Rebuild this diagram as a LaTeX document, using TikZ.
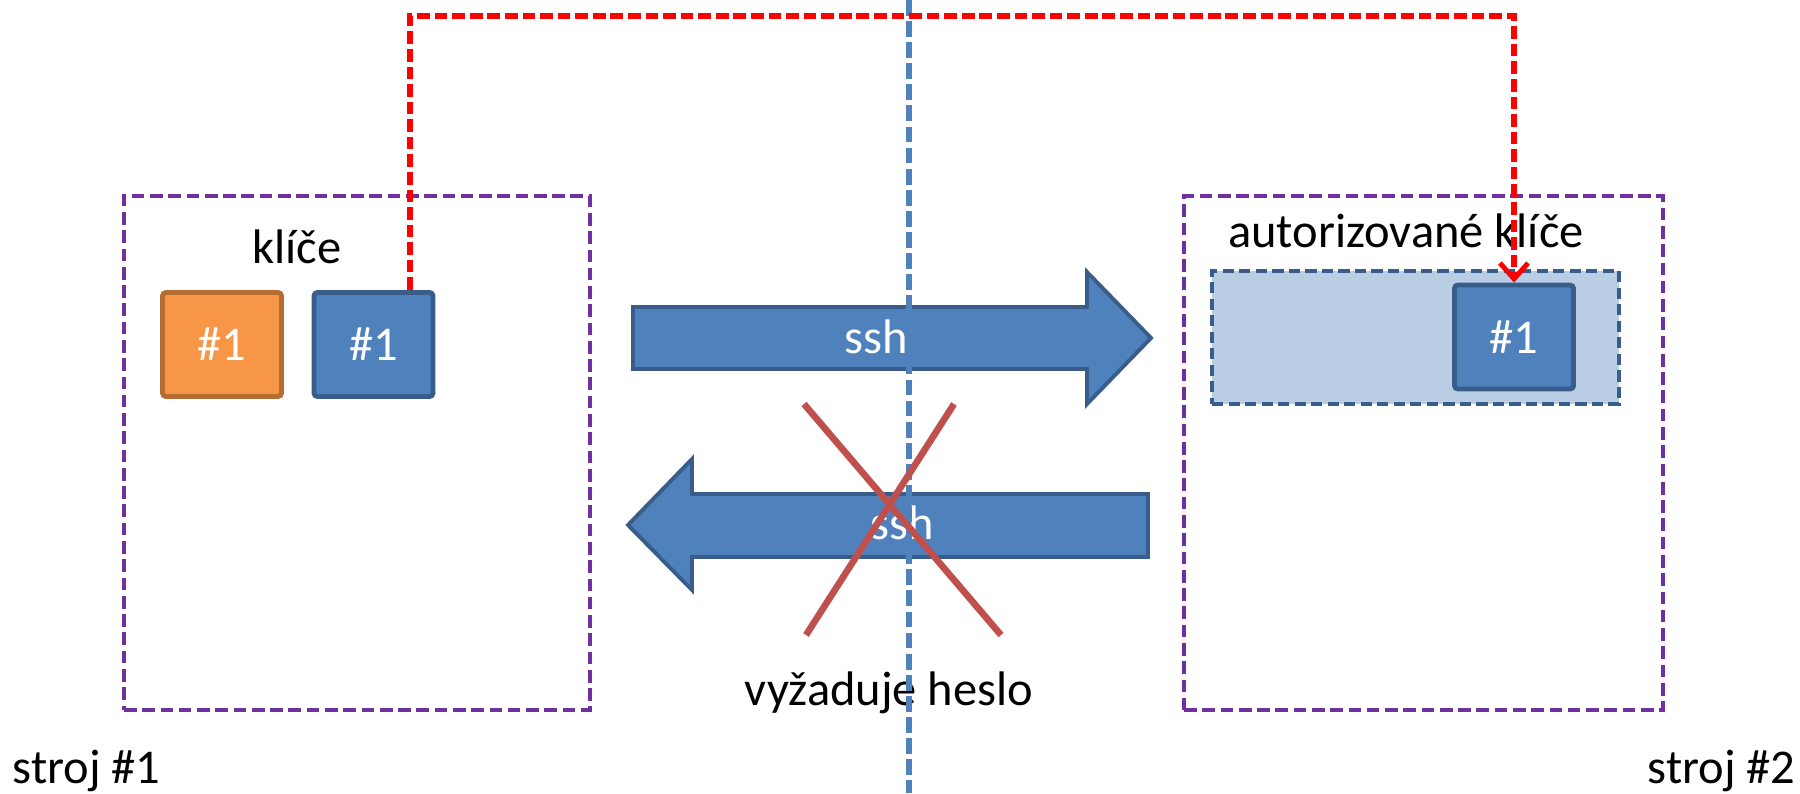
\documentclass[tikz,border=0pt]{standalone}
\usepackage{fontspec}
\setmainfont{Carlito}
\usetikzlibrary{
  calc,
  positioning,
  arrows.meta
}

\definecolor{keyblue}{HTML}{4F81BD}
\definecolor{keyblueline}{HTML}{385D8A}
\definecolor{keyorange}{HTML}{F79646}
\definecolor{keyorangeline}{HTML}{B66D31}
\definecolor{lightblue}{HTML}{B9CDE5}
\definecolor{hostpurple}{HTML}{7030A0}
\definecolor{crossred}{HTML}{C0504D}
\definecolor{copyred}{HTML}{FF0000}

\newcommand\lbl{\fontsize{13.8}{16.5}\selectfont}

\begin{document}
\begin{tikzpicture}[x=0.1mm, y=-0.1mm, font=\lbl,
    host/.style={draw=hostpurple, line width=1.3pt, dash pattern=on 3.6pt off 1.6pt,
      minimum height=51.4mm, inner sep=0pt},
    key/.style={rectangle, rounded corners=1pt, line width=1.4pt, text=white,
      minimum width=11.9mm, minimum height=10.4mm, inner sep=0pt},
    pub/.style={key, fill=keyblue, draw=keyblueline},
    priv/.style={key, fill=keyorange, draw=keyorangeline},
    keyring/.style={fill=lightblue, draw=keyblueline, line width=1.2pt,
      dash pattern=on 3.2pt off 1.5pt, minimum width=40.7mm, minimum height=13.3mm},
    bigarrow/.style={fill=keyblue, draw=keyblueline, line width=1.1pt},
    txt/.style={inner sep=0pt, anchor=base},
    cross/.style={draw=crossred, line width=1.9pt},
    border/.style={draw=keyblue, line width=1.5pt, dash pattern=on 4.5pt off 1.5pt},
    copy/.style={draw=copyred, line width=1.6pt, dash pattern=on 3.6pt off 1.4pt,
      -{Straight Barb[length=4.5pt, width=8pt, line width=1.4pt]}}
  ]
    \useasboundingbox (0,0) rectangle (1800,793);

    \node[host, minimum width=46.6mm] (host1) at (357,453) {};
    \node[host, minimum width=47.9mm] (host2) at (1423.5,453) {};

    \node[txt] (keys) at (297,263) {klíče};
    \node[priv] (privkey) at (222,344.5) {\#1};
    \node[pub] (pubkey) at (373.5,344.5) {\#1};

    \node[txt] (authkeys) at (1406,247) {autorizované klíče};
    \node[keyring] (ring) at (1415.5,337.5) {};
    \node[pub] (authkey) at (1514,337) {\#1};

    \draw[bigarrow] (633,307) -- (1087,307) -- (1087,272) -- (1151,338)
      -- (1087,404) -- (1087,369) -- (633,369) -- cycle;
    \node[txt, text=white] (sshto) at (876,353) {ssh};

    \draw[bigarrow] (1148,494) -- (692,494) -- (692,459) -- (628,525)
      -- (692,590) -- (692,557) -- (1148,557) -- cycle;
    \node[txt, text=white] (sshback) at (902,539) {ssh};

    \node[txt] (pass) at (889,705) {vyžaduje heslo};
    \node[txt, anchor=base west] (m1) at (12,783) {stroj \#1};
    \node[txt, anchor=base east] (m2) at (1796,783) {stroj \#2};

    \draw[border] (909,0) -- (909,793);

    \draw[cross] (804,404) -- (1001,635);
    \draw[cross] (954,404) -- (806,635);

    \coordinate (top) at (410,16);
    \draw[copy] (pubkey.north -| top) |- (top -| authkey.north) -- (authkey.north);
\end{tikzpicture}
\end{document}
